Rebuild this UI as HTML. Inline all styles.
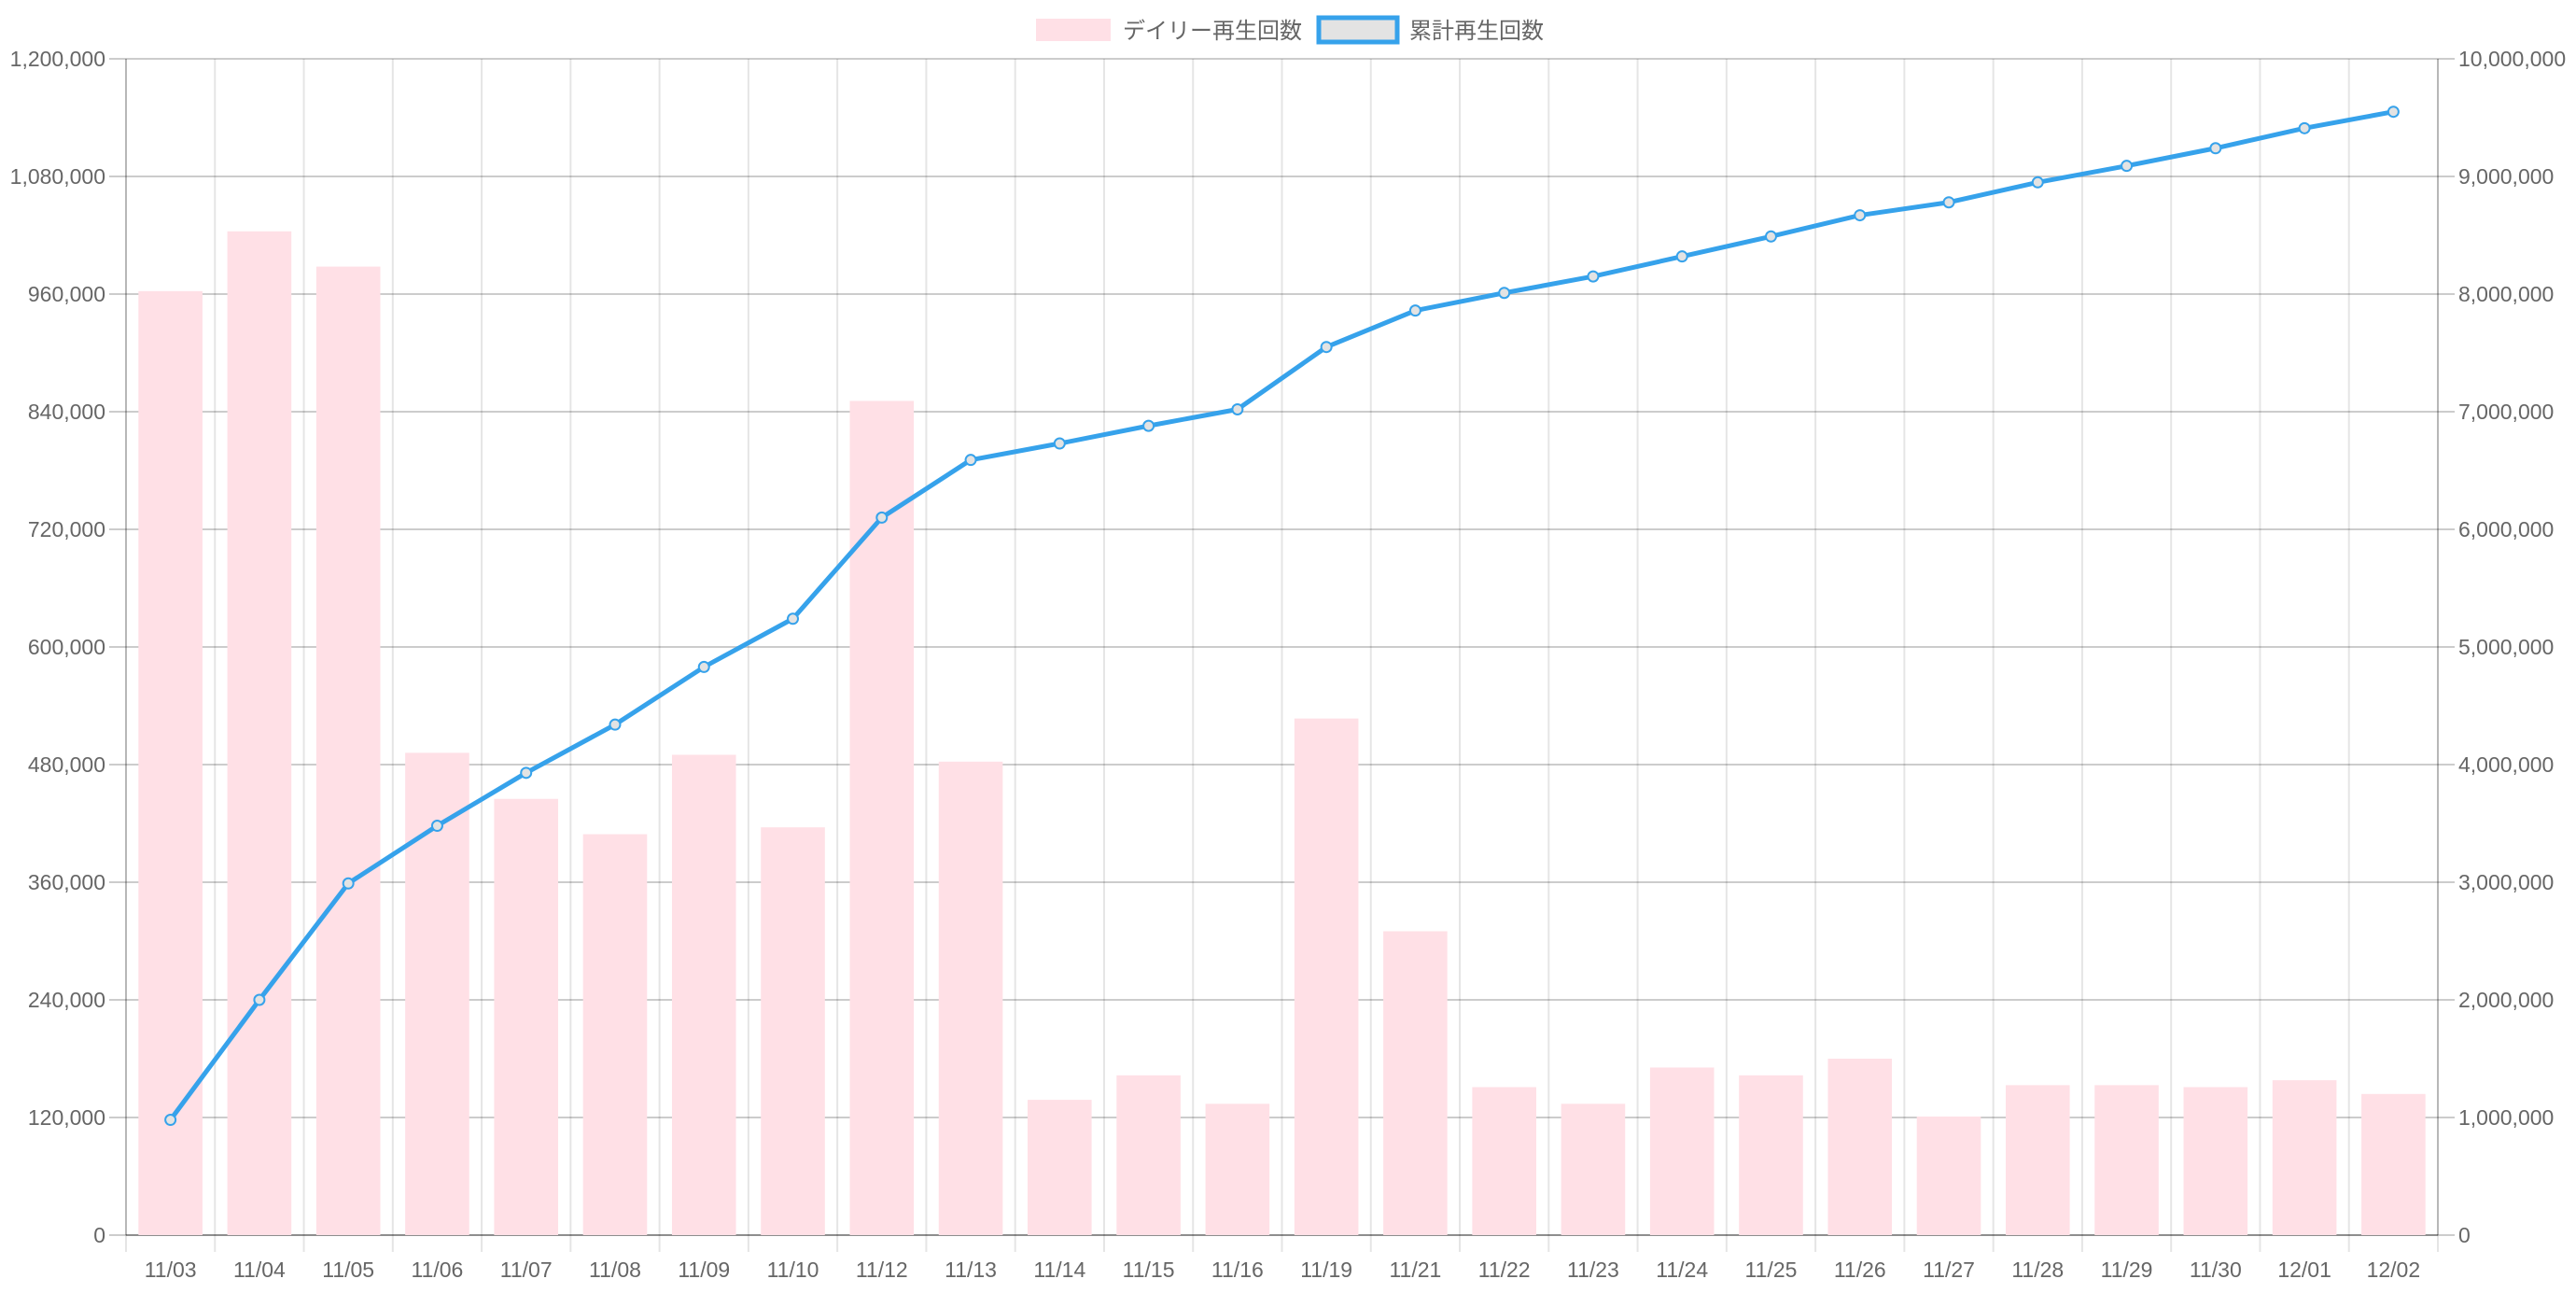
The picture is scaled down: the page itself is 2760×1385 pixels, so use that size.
<!DOCTYPE html>
<html><head><meta charset="utf-8"><style>
html,body{margin:0;padding:0;background:#fff;}
svg text{font-family:"Liberation Sans","Noto Sans CJK JP",sans-serif;fill:#666;}
</style></head><body>
<svg id="c" width="2760" height="1380" xmlns="http://www.w3.org/2000/svg"></svg>
<script>
const L=135,R=2612,T=63,B=1323,W=R-L,H=B-T;
const labels=["11/03","11/04","11/05","11/06","11/07","11/08","11/09","11/10","11/12","11/13","11/14","11/15","11/16","11/19","11/21","11/22","11/23","11/24","11/25","11/26","11/27","11/28","11/29","11/30","12/01","12/02"];
const bars=[963,1024,988,492,445,409,490,416,851,483,138,163,134,527,310,151,134,171,163,180,121,153,153,151,158,144];
const line=[0.98,2.0,2.99,3.48,3.93,4.34,4.83,5.24,6.10,6.59,6.73,6.88,7.02,7.55,7.86,8.01,8.15,8.32,8.49,8.67,8.78,8.95,9.09,9.24,9.41,9.55];
const n=labels.length,cw=W/n;
let s='';
for(let i=0;i<=10;i++){const y=T+H*i/10;s+=`<line x1="${L-18}" y1="${y}" x2="${R+18}" y2="${y}" stroke="rgba(0,0,0,0.2)" stroke-width="2"/>`;
const lv=(1200000*(10-i)/10).toLocaleString('en-US');const rv=(10000000*(10-i)/10).toLocaleString('en-US');
s+=`<text x="${L-22}" y="${y+8}" font-size="23" text-anchor="end">${lv}</text>`;
s+=`<text x="${R+22}" y="${y+8}" font-size="23">${rv}</text>`;}
for(let i=0;i<=n;i++){const x=L+cw*i;s+=`<line x1="${x}" y1="${T}" x2="${x}" y2="${B+18}" stroke="rgba(0,0,0,0.1)" stroke-width="2"/>`;}
s+=`<line x1="${L}" y1="${T}" x2="${L}" y2="${B}" stroke="rgba(0,0,0,0.2)" stroke-width="2"/>`;
s+=`<line x1="${R}" y1="${T}" x2="${R}" y2="${B}" stroke="rgba(0,0,0,0.2)" stroke-width="2"/>`;
s+=`<line x1="${L}" y1="${B}" x2="${R}" y2="${B}" stroke="rgba(0,0,0,0.3)" stroke-width="2"/>`;
const bw=cw*0.72;
for(let i=0;i<n;i++){const h=bars[i]*1000/1200000*H;const x=L+cw*i+(cw-bw)/2;
s+=`<rect x="${x}" y="${B-h}" width="${bw}" height="${h}" fill="#FFE0E6"/>`;
s+=`<text x="${L+cw*(i+0.5)}" y="${B+45}" font-size="23" text-anchor="middle">${labels[i]}</text>`;}
let pts=line.map((v,i)=>[L+cw*(i+0.5),B-v/10*H]);
s+=`<polyline points="${pts.map(p=>p.join(',')).join(' ')}" fill="none" stroke="#36A2EB" stroke-width="5" stroke-linejoin="round"/>`;
pts.forEach(p=>{s+=`<circle cx="${p[0]}" cy="${p[1]}" r="5.5" fill="#E3E3E3" stroke="#36A2EB" stroke-width="2"/>`;});
s+=`<rect x="1110" y="20" width="80" height="24" fill="#FFE0E6"/>`;
s+=`<text x="1203" y="41" font-size="24">デイリー再生回数</text>`;
s+=`<rect x="1413" y="19" width="84" height="26" fill="#E3E3E3" stroke="#36A2EB" stroke-width="5"/>`;
s+=`<text x="1510" y="41" font-size="24">累計再生回数</text>`;
document.getElementById('c').innerHTML=s;
</script>
</body></html>
